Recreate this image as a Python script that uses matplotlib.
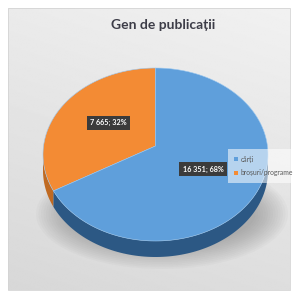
import numpy as np
import matplotlib
matplotlib.use("Agg")
import matplotlib.pyplot as plt
from matplotlib.patches import Polygon, Ellipse, Patch

title = "Gen de publicații"
categories = ["cărți", "broșuri/programe"]
values = [16351, 7665]
top_colors = ["#5f9fdb", "#f38b34"]
side_colors = ["#2c5884", "#c06a22"]

W = H = 298
fig = plt.figure(figsize=(W / 100, H / 100), dpi=100)
ax = fig.add_axes([0, 0, 1, 1])
ax.set_xlim(0, W)
ax.set_ylim(H, 0)
ax.axis("off")

# chart area background gradient
yy, xx = np.mgrid[0:1:200j, 0:1:200j]
g = 0.945 - 0.10 * (0.75 * yy + 0.25 * (1 - xx))
ax.imshow(g, cmap="gray", vmin=0, vmax=1, extent=(8, 290, 290, 8), zorder=0, interpolation="bilinear")
ax.add_patch(plt.Rectangle((8, 8), 282, 282, fill=False, ec="#d4d4d4", lw=0.6, zorder=1))

# shadow
for i in range(14):
    ax.add_patch(Ellipse((162, 214), 252 - i * 5, 110 - i * 3.5, color="#707070", alpha=0.04, lw=0, zorder=2))

cx, cy = 155.5, 154.5
a, b = 112.5, 86.5
vx, vy = 155.5, 146.0
depth = 16

def pt(t):
    r = np.radians(t)
    return cx + a * np.cos(r), cy - b * np.sin(r)

total = sum(values)
fracs = [v / total for v in values]
start_or = 90.0
end_or = 90.0 + 360 * fracs[1]
spans = {1: (start_or, end_or), 0: (end_or, 450.0)}

# sides (front half: 180..360)
for idx, (t0, t1) in spans.items():
    s0, s1 = max(t0, 180), min(t1, 360)
    if s1 <= s0:
        continue
    ts = np.linspace(s0, s1, 100)
    top = [pt(t) for t in ts]
    bot = [(x, y + depth) for x, y in top[::-1]]
    ax.add_patch(Polygon(top + bot, closed=True, fc=side_colors[idx], ec="none", zorder=3))

# top faces
label_pos = {}
for idx, (t0, t1) in spans.items():
    ts = np.linspace(t0, t1, 200)
    pts = [(vx, vy)] + [pt(t) for t in ts]
    ax.add_patch(Polygon(pts, closed=True, fc=top_colors[idx], ec="#9cc8f0", lw=0.4, zorder=4))
    tm = np.radians((t0 + t1) / 2)
    label_pos[idx] = (vx + 0.5 * a * np.cos(tm), vy - 0.5 * b * np.sin(tm))

# labels
for idx in [1, 0]:
    x, y = label_pos[idx]
    txt = f"{values[idx]:,}".replace(",", " ") + f"; {round(fracs[idx] * 100)}%"
    ax.text(x, y, txt, ha="center", va="center", fontsize=5.2, color="white", fontweight="bold",
            family="Lato", zorder=6,
            bbox=dict(boxstyle="square,pad=0.45", fc="#3b3b3b", ec="none"))

# title
ax.text(163, 25, title, ha="center", va="center", fontsize=10, fontweight="bold",
        color="#3d3d48", family="Lato", zorder=6)

# legend
handles = [Patch(fc=top_colors[i], ec="none", label=categories[i]) for i in range(2)]
leg = ax.legend(handles=handles, loc="center left", bbox_to_anchor=(227 / W, 1 - 166 / H),
                bbox_transform=fig.transFigure, frameon=True, handlelength=0.55,
                handleheight=0.55, handletextpad=0.4, labelspacing=1.0, borderpad=0.6,
                prop={"family": "Lato", "size": 4.9})
leg.get_frame().set_facecolor("white")
leg.get_frame().set_alpha(0.55)
leg.get_frame().set_edgecolor("none")
leg.get_frame().set_boxstyle("square")
for t in leg.get_texts():
    t.set_color("#595959")
leg.set_zorder(7)

fig.savefig("out.png", dpi=100)
